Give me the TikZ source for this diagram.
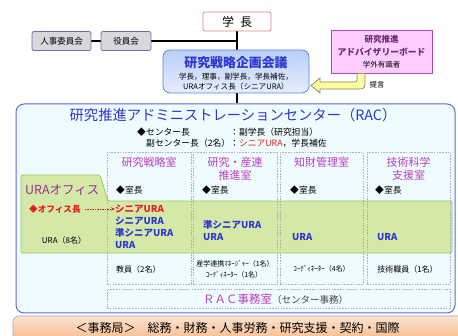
\documentclass[tikz,border=0pt]{standalone}
\usepackage{fontspec}
\setmainfont{Noto Sans CJK JP}
\usetikzlibrary{arrows.meta,backgrounds,calc}
\definecolor{ttblue}{RGB}{45,55,210}
\definecolor{ttmag}{RGB}{190,60,190}
\definecolor{ttpurple}{RGB}{150,50,150}
\definecolor{ttred}{RGB}{235,30,30}
\definecolor{racfill}{RGB}{238,252,255}
\definecolor{racborder}{RGB}{95,105,230}
\definecolor{urafill}{RGB}{212,232,168}
\definecolor{uraborder}{RGB}{150,200,100}
\definecolor{advfill}{RGB}{255,205,255}
\definecolor{advborder}{RGB}{160,80,180}
\definecolor{advtext}{RGB}{110,40,120}
\definecolor{greyfill}{RGB}{215,215,220}
\definecolor{greyborder}{RGB}{110,110,170}
\definecolor{presborder}{RGB}{225,130,130}
\definecolor{meetborder}{RGB}{90,130,225}
\definecolor{meettop}{RGB}{185,207,248}
\definecolor{meetbot}{RGB}{230,238,255}
\definecolor{arrowfill}{RGB}{255,255,160}
\definecolor{arrowborder}{RGB}{130,130,110}
\definecolor{officeA}{RGB}{253,228,208}
\definecolor{officeB}{RGB}{246,178,125}
\definecolor{officeborder}{RGB}{170,160,190}
\definecolor{darkgrey}{RGB}{70,70,70}
\newcommand{\fs}[1]{\fontsize{#1}{#1}\selectfont}
\tikzset{
  smallbox/.style={draw=greyborder, fill=greyfill, rounded corners=2pt, line width=0.8pt, inner sep=0pt, minimum height=19pt, font=\fs{8.5}},
  presbox/.style={draw=presborder, fill=white, rounded corners=2pt, line width=0.8pt, inner sep=0pt, font=\fs{12}},
  meetbox/.style={draw=meetborder, top color=meettop, bottom color=meetbot, rounded corners=7pt, line width=0.8pt, inner sep=0pt},
  advbox/.style={draw=advborder, fill=advfill, line width=0.8pt, inner sep=0pt},
  racbox/.style={draw=racborder, fill=racfill, rounded corners=8pt, line width=1pt, inner sep=0pt},
  colbox/.style={draw=gray!60, dashed, dash pattern=on 1.6pt off 1.2pt, line width=0.6pt, inner sep=0pt},
  conn/.style={line width=1.2pt, draw=black},
  txt/.style={inner sep=0pt, font=\fs{8.8}},
  hdr/.style={inner sep=0pt, font=\fs{11}, text=ttmag},
  ura/.style={inner sep=0pt, anchor=west, font=\fs{9.5}\bfseries, text=ttblue},
  staff/.style={inner sep=0pt, font=\fs{8}},
}
\begin{document}
\begin{tikzpicture}[x=1pt,y=-1pt]
\useasboundingbox (0,0) rectangle (458,336);

% bottom office bar
\node[draw=officeborder, top color=officeA, bottom color=officeB, rounded corners=6pt, line width=0.6pt, minimum width=460pt, minimum height=30pt, inner sep=0pt] (kyoku) at (243,331) {};
\node[inner sep=0pt, font=\fs{12}] (kyokut) at (237.5,328) {＜事務局＞　総務・財務・人事労務・研究支援・契約・国際};

% top boxes
\node[presbox, minimum width=68pt, minimum height=19pt] (pres) at (237,21.5) {学\hspace{6pt}長};
\node[smallbox, minimum width=59pt] (jinji) at (61.5,41) {人事委員会};
\node[smallbox, minimum width=50pt] (yakuin) at (126,41) {役員会};

\node[meetbox, minimum width=146pt, minimum height=43pt] (meet) at (236,71.5) {};
\node[inner sep=0pt, font=\fs{12.9}\bfseries, text=ttblue] (meett) at (236,63) {研究戦略企画会議};
\node[inner sep=0pt, font=\fs{7.6}] (meetl1) at (236,76.5) {学長，理事，副学長，学長補佐，};
\node[inner sep=0pt, font=\fs{7.6}] (meetl2) at (236,87) {URAオフィス長（シニアURA）};

\node[advbox, minimum width=101pt, minimum height=43pt] (adv) at (381.5,51.5) {};
\node[inner sep=0pt, font=\fs{8.5}\bfseries, text=advtext] (advt1) at (381.5,39.5) {研究推進};
\node[inner sep=0pt, font=\fs{8.8}\bfseries, text=advtext] (advt2) at (381.5,52) {アドバイザリーボード};
\node[inner sep=0pt, font=\fs{7.5}] (advt3) at (381.5,65) {学外有識者};

% yellow arrow (proposal)
\filldraw[fill=arrowfill, draw=arrowborder, line width=0.7pt]
  (357,73.4) -- (357,79) .. controls (357,82) .. (354,82) -- (320,82) -- (320,78)
  -- (311,85.5) -- (320,93) -- (320,89) -- (356,89) .. controls (365,89) .. (365,80) -- (365,73.4) -- cycle;
\node[inner sep=0pt, font=\fs{7.5}] (teigen) at (377,84.5) {提言};

% RAC box
\node[racbox, minimum width=439pt, minimum height=209pt] (rac) at (235.5,208.5) {};
\node[inner sep=0pt, font=\fs{14.3}, text=ttblue] (ract) at (233,115.5) {研究推進アドミニストレーションセンター（RAC）};
\node[txt, anchor=west] (cl1) at (137,132) {◆センター長};
\node[txt, anchor=west] (cl2) at (146,143.5) {副センター長（2名）};
\node[txt, anchor=west] (cr1) at (230,132) {：副学長（研究担当）};
\node[txt, anchor=west] (cr2) at (230,143.5) {：{\color{ttred}シニアURA}，学長補佐};

% URA office green region
\filldraw[fill=urafill, draw=uraborder, line width=0.8pt, rounded corners=1.5pt]
  (21,175) -- (100,175) -- (108,201) -- (452,201) -- (452,253) -- (21,253) -- cycle;

% columns
\node[colbox, minimum width=84pt, minimum height=132pt] (col1) at (149,218) {};
\node[colbox, minimum width=84pt, minimum height=132pt] (col2) at (235,218) {};
\node[colbox, minimum width=83pt, minimum height=132pt] (col3) at (321.5,218) {};
\node[colbox, minimum width=83pt, minimum height=132pt] (col4) at (408.5,218) {};
\node[colbox, minimum width=343pt, minimum height=19pt] (jimu) at (278.5,298.5) {};

\node[hdr] (h1) at (149,162) {研究戦略室};
\node[hdr] (h2a) at (235,162) {研究・産連};
\node[hdr] (h2b) at (235,175) {推進室};
\node[hdr] (h3) at (321.5,162) {知財管理室};
\node[hdr] (h4a) at (408.5,162) {技術科学};
\node[hdr] (h4b) at (408.5,175) {支援室};

\node[txt, anchor=west] (s1) at (116,190) {◆室長};
\node[txt, anchor=west] (s2) at (202,190) {◆室長};
\node[txt, anchor=west] (s3) at (290,190) {◆室長};
\node[txt, anchor=west] (s4) at (375,190) {◆室長};

\node[inner sep=0pt, anchor=west, font=\fs{12.5}, text=ttpurple] (urat) at (25,190) {URAオフィス};
\node[inner sep=0pt, anchor=west, font=\fs{8.6}\bfseries, text=ttred] (ochou) at (29,209) {◆オフィス長};
\node[staff] (ura8) at (64,240) {URA（8名）};

\node[ura, text=ttred] (c1a) at (115,209) {シニアURA};
\node[ura] (c1b) at (115,221) {シニアURA};
\node[ura] (c1c) at (115,233) {準シニアURA};
\node[ura] (c1d) at (115,245) {URA};
\node[ura] (c2a) at (203,225) {準シニアURA};
\node[ura] (c2b) at (203,237.5) {URA};
\node[ura] (c3a) at (292,237.5) {URA};
\node[ura] (c4a) at (377,237.5) {URA};

\draw[ttred, line width=0.8pt, dash pattern=on 1.5pt off 1pt, -{Stealth[length=4pt,width=3.5pt]}] (ochou.east) ++(4,0) coordinate (oa) (oa) -- (c1a.west);

\node[staff, anchor=west] (k1) at (116,269) {教員（2名）};
\node[staff, font=\fs{7}] (k2a) at (235,264) {産学連携ﾏﾈｰｼﾞｬｰ（1名）};
\node[staff, font=\fs{7}] (k2b) at (234,275) {ｺｰﾃﾞｨﾈｰﾀｰ（1名）};
\node[staff, font=\fs{7}] (k3) at (321.5,269) {ｺｰﾃﾞｨﾈｰﾀｰ（4名）};
\node[staff] (k4) at (407.5,269) {技術職員（1名）};

\node[inner sep=0pt, anchor=west] (jimut) at (203,299) {{\fs{11.5}\color{ttmag}ＲＡＣ事務室}{\fs{9.5}\color{darkgrey}（センター事務）}};

% connectors
\begin{scope}[on background layer]
\draw[conn] (pres.south) -- (pres.south |- rac.north);
\draw[conn] (yakuin.east) -- (yakuin.east -| pres.south);
\draw[conn] (jinji.east) -- (yakuin.west);
\end{scope}
\end{tikzpicture}
\end{document}
